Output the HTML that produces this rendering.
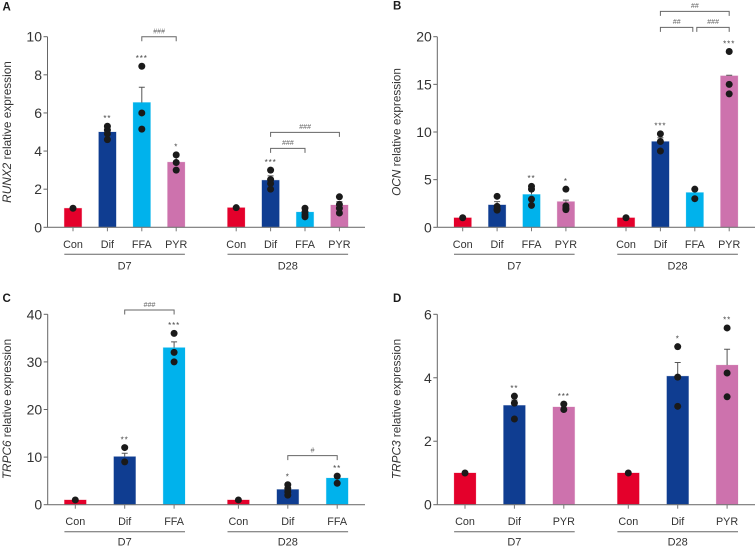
<!DOCTYPE html>
<html lang="en">
<head>
<meta charset="utf-8">
<title>Relative gene expression bar charts</title>
<style>
html,body{margin:0;padding:0;background:#fff;}
svg{display:block;font-family:"Liberation Sans",sans-serif;}
</style>
</head>
<body>
<svg id="figure" width="756" height="548" viewBox="0 0 756 548" xmlns="http://www.w3.org/2000/svg"></svg>
<script>
const timeGroups = ['D7', 'D28'];
const barColors = {Con: '#e4002b', Dif: '#0f3d91', FFA: '#00b2ec', PYR: '#cd72ad'};

const panelACategories = ['Con', 'Dif', 'FFA', 'PYR'];
const panelATicks = [0, 2, 4, 6, 8, 10];
const panelAMeans = [1.0, 5.0, 6.55, 3.42, 1.03, 2.47, 0.8, 1.17];
const panelAErrors = [1.0, 5.2, 7.35, 3.7, 1.03, 2.7, 0.9, 1.35];
const panelAPoints = [[1.0], [5.3, 5.1, 4.9, 4.6], [8.45, 6.0, 5.15], [3.8, 3.4, 3.0], [1.03], [3.0, 2.5, 2.3, 2.0], [1.0, 0.8, 0.65, 0.55], [1.6, 1.2, 1.0, 0.75]];
const panelAStars = ['', '**', '***', '*', '', '***', '', ''];
const panelABrackets = [[2, 3, 10, '###', 0, 0], [5, 7, 4.98, '###', 0, 0], [5, 6, 4.14, '###', 0, 0]];

const panelBCategories = ['Con', 'Dif', 'FFA', 'PYR'];
const panelBTicks = [0, 5, 10, 15, 20];
const panelBMeans = [1.0, 2.35, 3.45, 2.7, 1.0, 9.0, 3.65, 15.9];
const panelBErrors = [1.0, 2.7, 3.9, 2.85, 1.0, 9.4, 4.0, 15.95];
const panelBPoints = [[1.0], [3.25, 2.2, 1.9, 1.8], [4.3, 4.0, 2.95, 2.3], [4.0, 2.25, 2.0, 1.85], [1.0], [9.8, 9.0, 8.0], [4.0, 3.0], [18.45, 15.0, 14.0]];
const panelBStars = ['', '', '**', '*', '', '***', '', '***'];
const panelBBrackets = [[5, 7, 22.66, '##', 0, 0], [5, 6, 20.98, '##', 0, 2], [6, 7, 20.98, '###', 2, 0]];

const panelCCategories = ['Con', 'Dif', 'FFA'];
const panelCTicks = [0, 10, 20, 30, 40];
const panelCMeans = [1.0, 10.1, 33.0, 1.0, 3.2, 5.6];
const panelCErrors = [1.0, 10.8, 34.2, 1.0, 3.6, 5.9];
const panelCPoints = [[1.0], [12.0, 9.0], [36.0, 32.0, 30.0], [1.0], [4.2, 3.4, 2.7, 2.0], [6.0, 4.5]];
const panelCStars = ['', '**', '***', '', '*', '**'];
const panelCBrackets = [[1, 2, 40.9, '###', 0, 0], [4, 5, 10.3, '#', 0, 0]];

const panelDCategories = ['Con', 'Dif', 'PYR'];
const panelDTicks = [0, 2, 4, 6];
const panelDMeans = [1.0, 3.13, 3.08, 1.0, 4.05, 4.4];
const panelDErrors = [1.0, 3.3, 3.15, 1.0, 4.48, 4.9];
const panelDPoints = [[1.0], [3.42, 3.2, 2.7], [3.17, 3.0], [1.0], [4.98, 4.02, 3.1], [5.57, 4.15, 3.4]];
const panelDStars = ['', '**', '***', '', '*', '**'];
const panelDBrackets = [];

const NS = 'http://www.w3.org/2000/svg';
const figure = document.getElementById('figure');

function make(parent, tag, attrs, text) {
  const el = document.createElementNS(NS, tag);
  for (const k in attrs) el.setAttribute(k, attrs[k]);
  if (text !== undefined) el.textContent = text;
  parent.appendChild(el);
  return el;
}

function drawPanel(p) {
  const g = make(figure, 'g', {});
  
  

  const maxTick = p.ticks[p.ticks.length - 1];
  const yScale = v => p.y0 - (v / maxTick) * (p.y0 - p.yTop);
  const n = p.categories.length;
  const xScale = i => i < n ? p.x0 + i * p.step : p.x1 + (i - n) * p.step;
  const half = p.barWidth / 2;

  const letter = make(g, 'text', {x: p.letterX, y: p.letterY, 'font-size': 11.5, 'font-weight': 'bold', fill: '#1a1a1a'}, p.letter);
  
  

  const title = make(g, 'text', {
    transform: 'translate(' + p.titleX + ',' + p.titleY + ') rotate(-90)',
    'text-anchor': 'middle', 'font-size': 11.8, fill: '#333'
  });
  
  
  make(title, 'tspan', {'font-style': 'italic'}, p.gene);
  make(title, 'tspan', {}, ' relative expression');

  // bars
  p.means.forEach((m, i) => {
    const cat = p.categories[i % n];
    const bar = make(g, 'rect', {x: xScale(i) - half, y: yScale(m), width: p.barWidth, height: p.y0 - yScale(m), fill: barColors[cat], stroke: barColors[cat], 'stroke-opacity': 0.25, 'stroke-width': 0.8});
    
    
  });

  // error bars
  p.errors.forEach((e, i) => {
    if (e <= p.means[i]) return;
    const eg = make(g, 'path', {
      d: 'M' + xScale(i) + ' ' + yScale(p.means[i]) + 'V' + yScale(e) + 'M' + (xScale(i) - 3) + ' ' + yScale(e) + 'H' + (xScale(i) + 3),
      stroke: '#555', 'stroke-width': 1, fill: 'none'
    });
    
    
  });

  // axes
  const yAxis = make(g, 'path', {d: 'M' + p.axisX + ' ' + p.yTop + 'V' + p.y0, stroke: '#666', 'stroke-width': 1, fill: 'none'});
  
  
  const xAxis = make(g, 'path', {d: 'M' + p.axisX + ' ' + p.y0 + 'H' + p.axisEnd, stroke: '#777', 'stroke-width': 1.1, fill: 'none'});
  
  

  p.ticks.forEach(t => {
    const tick = make(g, 'path', {d: 'M' + (p.axisX - 4) + ' ' + yScale(t) + 'H' + p.axisX, stroke: '#666', 'stroke-width': 1});
    
    
    const lab = make(g, 'text', {x: p.axisX - 5.5, y: yScale(t) + 5, 'text-anchor': 'end', 'font-size': 14, fill: '#333'}, String(t));
    
    
  });

  p.means.forEach((m, i) => {
    const tick = make(g, 'path', {d: 'M' + xScale(i) + ' ' + p.y0 + 'v4', stroke: '#777', 'stroke-width': 1});
    
    
    const lab = make(g, 'text', {x: xScale(i), y: p.y0 + 20.5, 'text-anchor': 'middle', 'font-size': 10.8, fill: '#333'}, p.categories[i % n]);
    
    
  });

  // group lines and labels
  timeGroups.forEach((name, gi) => {
    const left = xScale(gi * n) - half;
    const right = xScale(gi * n + n - 1) + half;
    const line = make(g, 'path', {d: 'M' + left + ' ' + (p.y0 + 27) + 'H' + right, stroke: '#666', 'stroke-width': 1});
    
    
    const lab = make(g, 'text', {x: (left + right) / 2, y: p.y0 + p.groupLabelOffset, 'text-anchor': 'middle', 'font-size': 11, fill: '#333'}, name);
    
    
  });

  // points and significance stars
  p.points.forEach((pts, i) => {
    pts.forEach(v => {
      const dot = make(g, 'circle', {cx: xScale(i), cy: yScale(v), r: 3.5, fill: '#1a1a1a'});
      
      
    });
    if (p.stars[i]) {
      const star = make(g, 'text', {x: xScale(i), y: yScale(Math.max.apply(null, pts)) - 5.2, 'text-anchor': 'middle', 'font-size': 8, 'letter-spacing': '0.9', fill: '#444'}, p.stars[i]);
      
      
    }
  });

  // comparison brackets
  p.brackets.forEach(b => {
    const xa = xScale(b[0]) + b[4];
    const xb = xScale(b[1]) - b[5];
    const by = yScale(b[2]);
    const path = make(g, 'path', {d: 'M' + xa + ' ' + (by + 4.5) + 'V' + by + 'H' + xb + 'V' + (by + 4.5), stroke: '#666', 'stroke-width': 1, fill: 'none'});
    
    
    const lab = make(g, 'text', {x: (xa + xb) / 2, y: by - 3.2, 'text-anchor': 'middle', 'font-size': 7, 'font-style': 'italic', fill: '#666'}, b[3]);
    
    
  });
}

drawPanel({letter: 'A', gene: 'RUNX2', categories: panelACategories, ticks: panelATicks, means: panelAMeans, errors: panelAErrors, points: panelAPoints, stars: panelAStars, brackets: panelABrackets,
  axisX: 47.5, axisEnd: 365, y0: 227.3, yTop: 36.7, x0: 73, x1: 236.2, step: 34.4, barWidth: 17.4, groupLabelOffset: 42, letterX: 2.5, letterY: 10.5, titleX: 11, titleY: 132});
drawPanel({letter: 'B', gene: 'OCN', categories: panelBCategories, ticks: panelBTicks, means: panelBMeans, errors: panelBErrors, points: panelBPoints, stars: panelBStars, brackets: panelBBrackets,
  axisX: 437.3, axisEnd: 755, y0: 227.3, yTop: 36.7, x0: 462.7, x1: 626, step: 34.4, barWidth: 17.4, groupLabelOffset: 42, letterX: 393, letterY: 9.5, titleX: 400.5, titleY: 132});
drawPanel({letter: 'C', gene: 'TRPC6', categories: panelCCategories, ticks: panelCTicks, means: panelCMeans, errors: panelCErrors, points: panelCPoints, stars: panelCStars, brackets: panelCBrackets,
  axisX: 47.7, axisEnd: 365, y0: 504.7, yTop: 314.3, x0: 75.3, x1: 238.4, step: 49.4, barWidth: 21.8, groupLabelOffset: 41, letterX: 2.5, letterY: 302, titleX: 11, titleY: 409});
drawPanel({letter: 'D', gene: 'TRPC3', categories: panelDCategories, ticks: panelDTicks, means: panelDMeans, errors: panelDErrors, points: panelDPoints, stars: panelDStars, brackets: panelDBrackets,
  axisX: 437.3, axisEnd: 755, y0: 504.7, yTop: 314.3, x0: 465, x1: 628.3, step: 49.4, barWidth: 21.8, groupLabelOffset: 41, letterX: 393, letterY: 302, titleX: 400.5, titleY: 409});
</script>
</body>
</html>
